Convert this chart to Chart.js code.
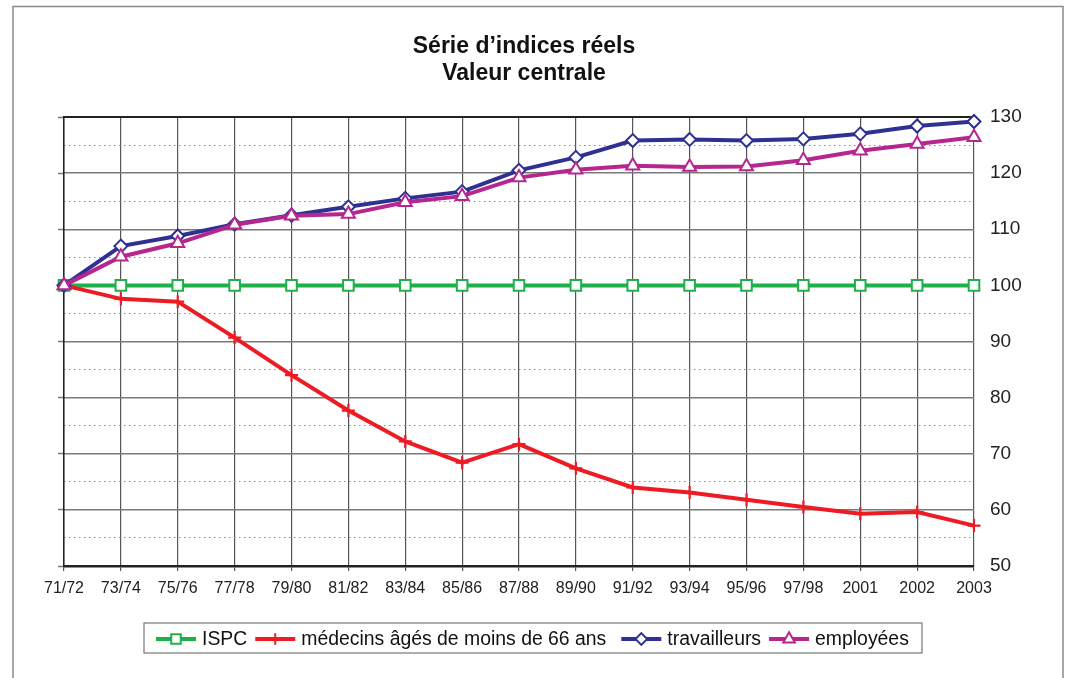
<!DOCTYPE html>
<html>
<head>
<meta charset="utf-8">
<script src="https://cdn.jsdelivr.net/npm/chart.js@4/dist/chart.umd.min.js"></script>
<style>
  html, body { margin: 0; padding: 0; background: #fff; }
  #wrap { width: 1072px; height: 678px; position: relative; }
</style>
</head>
<body>
<div id="wrap"><canvas id="c" width="1072" height="678"></canvas></div>
<script>
const titleLines = ['Série d\u2019indices réels', 'Valeur centrale'];
const categories = ['71/72','73/74','75/76','77/78','79/80','81/82','83/84','85/86','87/88','89/90','91/92','93/94','95/96','97/98','2001','2002','2003'];
const ispc = [100,100,100,100,100,100,100,100,100,100,100,100,100,100,100,100,100];
const medecins = [100, 97.6, 97.1, 90.7, 84.0, 77.7, 72.2, 68.4, 71.7, 67.4, 64.0, 63.1, 61.8, 60.5, 59.3, 59.6, 57.2];
const travailleurs = [100, 107.0, 108.8, 110.9, 112.5, 114.0, 115.5, 116.7, 120.5, 122.8, 125.8, 126.0, 125.8, 126.1, 127.0, 128.4, 129.2];
const employees = [100, 105.1, 107.5, 110.8, 112.4, 112.7, 114.8, 115.9, 119.2, 120.6, 121.3, 121.1, 121.2, 122.3, 124.0, 125.2, 126.4];
const seriesNames = ['ISPC', 'médecins âgés de moins de 66 ans', 'travailleurs', 'employées'];
const yMin = 50, yMax = 130;

const FONT = '"Liberation Sans", Arial, sans-serif';
const colors = ['#1fb04c', '#ed1c24', '#2e3192', '#b5268e'];
const styles = ['rect', 'cross', 'rectRot', 'triangle'];
const radii = [7.5, 6.5, 6.5, 7.5];

const datasets = [ispc, medecins, travailleurs, employees].map((d, i) => ({
  label: seriesNames[i],
  data: d,
  borderColor: colors[i],
  borderWidth: 4,
  pointStyle: styles[i],
  pointRadius: radii[i],
  pointBorderColor: colors[i],
  pointBackgroundColor: '#ffffff',
  pointBorderWidth: i === 1 ? 2.2 : 2,
  tension: 0,
  clip: false,
  order: 4 - i
}));

const framePlugin = {
  id: 'frame',
  beforeDraw(chart) {
    const ctx = chart.ctx;
    ctx.save();
    ctx.fillStyle = '#fff';
    ctx.fillRect(0, 0, chart.width, chart.height);
    ctx.strokeStyle = '#8a8a8a';
    ctx.lineWidth = 1.5;
    ctx.beginPath();
    ctx.moveTo(13, 700);
    ctx.lineTo(13, 6.5);
    ctx.lineTo(1063, 6.5);
    ctx.lineTo(1063, 700);
    ctx.stroke();
    ctx.restore();
  },
  afterDraw(chart) {
    const ctx = chart.ctx;
    ctx.save();
    // title
    ctx.fillStyle = '#111';
    ctx.font = 'bold 23px ' + FONT;
    ctx.textAlign = 'center';
    ctx.textBaseline = 'middle';
    ctx.fillText(titleLines[0], 524, 47);
    ctx.fillText(titleLines[1], 524, 74);
    // legend
    const top = 623, bottom = 653, midY = 639;
    ctx.font = '19.4px ' + FONT;
    ctx.textAlign = 'left';
    let x = 156;
    const items = [];
    chart.data.datasets.forEach((ds, i) => {
      const w = ctx.measureText(ds.label).width;
      items.push({ x, w, ds, i });
      x += 46 + w + (i === 1 ? 15 : 8);
    });
    const boxL = 144, boxR = Math.max(922, x - 8 + 6);
    ctx.strokeStyle = '#777';
    ctx.lineWidth = 1.2;
    ctx.strokeRect(boxL, top, boxR - boxL, bottom - top);
    items.forEach(it => {
      const ds = it.ds;
      ctx.strokeStyle = ds.borderColor;
      ctx.lineWidth = 4;
      ctx.beginPath();
      ctx.moveTo(it.x, midY);
      ctx.lineTo(it.x + 40, midY);
      ctx.stroke();
      ctx.fillStyle = '#fff';
      ctx.strokeStyle = ds.borderColor;
      ctx.lineWidth = 2;
      Chart.helpers.drawPoint(ctx, { pointStyle: ds.pointStyle, radius: ds.pointRadius * 0.9, borderWidth: 2, rotation: 0 }, it.x + 20, midY);
      ctx.fillStyle = '#111';
      ctx.textBaseline = 'middle';
      ctx.fillText(ds.label, it.x + 46, midY + 1);
    });
    ctx.restore();
  }
};

new Chart(document.getElementById('c'), {
  type: 'line',
  data: { labels: categories, datasets },
  plugins: [framePlugin],
  options: {
    responsive: false,
    animation: false,
    layout: { padding: { top: 117, left: 58, right: 0, bottom: 0 } },
    plugins: { legend: { display: false }, title: { display: false }, tooltip: { enabled: false } },
    scales: {
      x: {
        type: 'category',
        offset: false,
        grid: { color: '#555', lineWidth: 1.2, tickLength: 5, tickColor: '#555' },
        border: { color: '#222', width: 2.5 },
        ticks: { font: { size: 16, family: FONT }, color: '#222', padding: 8, maxRotation: 0, autoSkip: false },
        afterFit(s) { s.height = 112; }
      },
      y: {
        position: 'right',
        min: yMin, max: yMax,
        grid: {
          drawTicks: false,
          color: (c) => {
            const v = c.tick ? c.tick.value : 0;
            if (v % 10 !== 0) return '#8a8a8a';
            return v === yMax ? '#222' : '#7a7a7a';
          },
          lineWidth: (c) => {
            const v = c.tick ? c.tick.value : 0;
            return v % 10 !== 0 ? 1 : (v === yMax ? 2 : 1.5);
          }
        },
        border: {
          display: false,
          dash: (c) => (c.tick && c.tick.value % 10 !== 0) ? [1.5, 3.5] : []
        },
        ticks: {
          stepSize: 5,
          padding: 16,
          font: { size: 19, family: FONT },
          color: '#222',
          callback: (v) => (v % 10 === 0 ? String(v) : '')
        },
        afterFit(s) { s.width = 98; }
      },
      yLeft: {
        position: 'left',
        min: yMin, max: yMax,
        grid: { drawOnChartArea: false, tickLength: 6, tickColor: '#777', tickWidth: 1.5 },
        border: { color: '#222', width: 1.5 },
        ticks: { stepSize: 10, display: false },
        afterFit(s) { s.width = 6; }
      }
    }
  }
});
</script>
</body>
</html>
